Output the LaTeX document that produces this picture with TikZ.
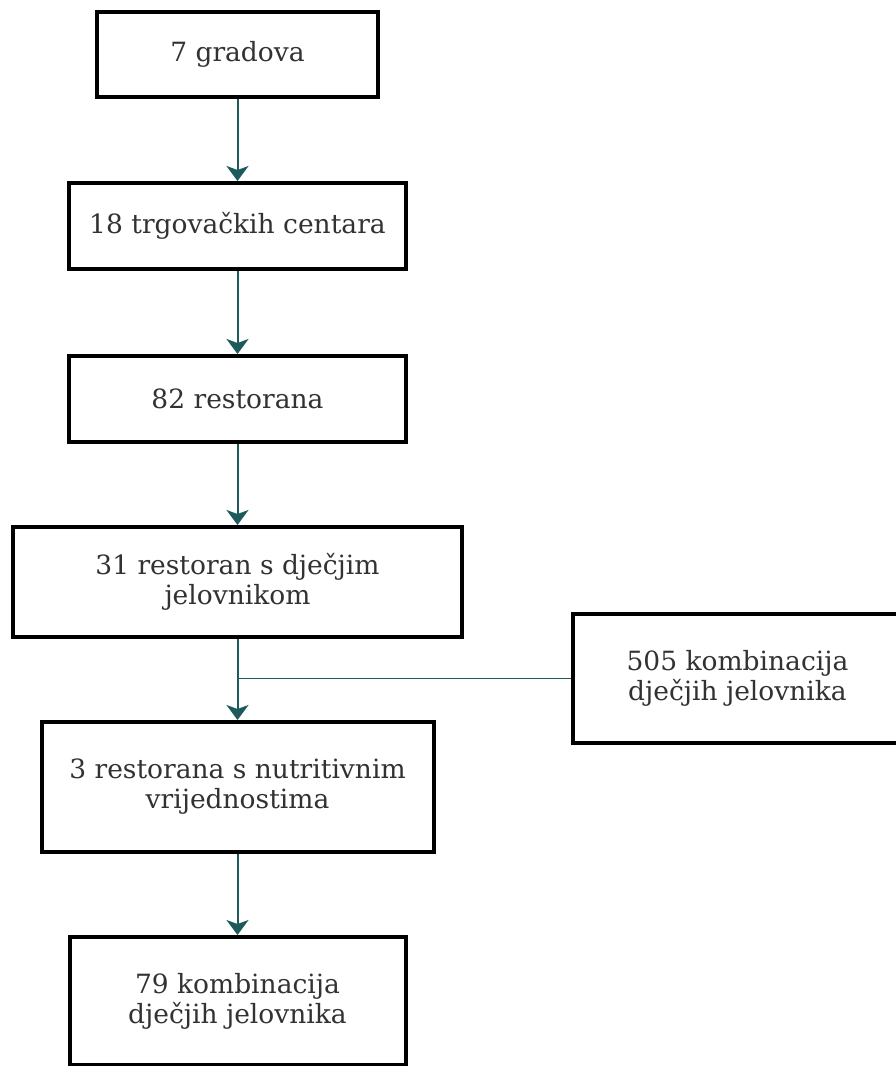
\documentclass[tikz,border=0pt]{standalone}
\usepackage{fontspec}
\newfontfamily\dserif{DejaVu Serif}
\usepackage{tikz}
\usetikzlibrary{arrows.meta}
\usetikzlibrary{positioning}
\definecolor{teal1}{RGB}{30,90,92}
\definecolor{txt}{RGB}{50,50,50}
\tikzset{blok/.style={rectangle,draw=black,line width=4pt,fill=white,
    text=txt,align=center,inner sep=0pt,
    font=\dserif\fontsize{26.5}{30}\selectfont}}
\tikzset{tok/.style={teal1,line width=2pt,-{Stealth[length=15pt,width=22pt,inset=4pt]}}}
\tikzset{veza/.style={teal1,line width=1.6pt}}

\begin{document}
\begin{tikzpicture}[x=1pt,y=-1pt]
\useasboundingbox (0,0) rectangle (896,1066);
\clip (0,0) rectangle (896,1066);

\node[blok,minimum width=281pt,minimum height=85pt] (G) at (237.5,54.5) {7 gradova};
\node[blok,minimum width=337pt,minimum height=86pt] (T) at (237.5,226) {18 trgova\v{c}kih centara};
\node[blok,minimum width=337pt,minimum height=86pt] (R) at (237.5,399) {82 restorana};
\node[blok,minimum width=449pt,minimum height=110pt] (D) at (237.5,582) {31 restoran s dje\v{c}jim\\jelovnikom};
\node[blok,minimum width=392pt,minimum height=130pt] (N) at (237.5,787) {3 restorana s nutritivnim\\vrijednostima};
\node[blok,minimum width=336pt,minimum height=128pt] (K) at (237.5,1001) {79 kombinacija\\dje\v{c}jih jelovnika};
\node[blok,minimum width=329pt,minimum height=129pt] (S) at (737.5,678.5) {505 kombinacija\\dje\v{c}jih jelovnika};

\draw[tok] (G) -- (T);
\draw[tok] (T) -- (R);
\draw[tok] (R) -- (D);
\draw[tok] (D) -- (N);
\draw[tok] (N) -- (K);
\draw[veza] (S.west) -- (S.west -| D.south);

\end{tikzpicture}
\end{document}
